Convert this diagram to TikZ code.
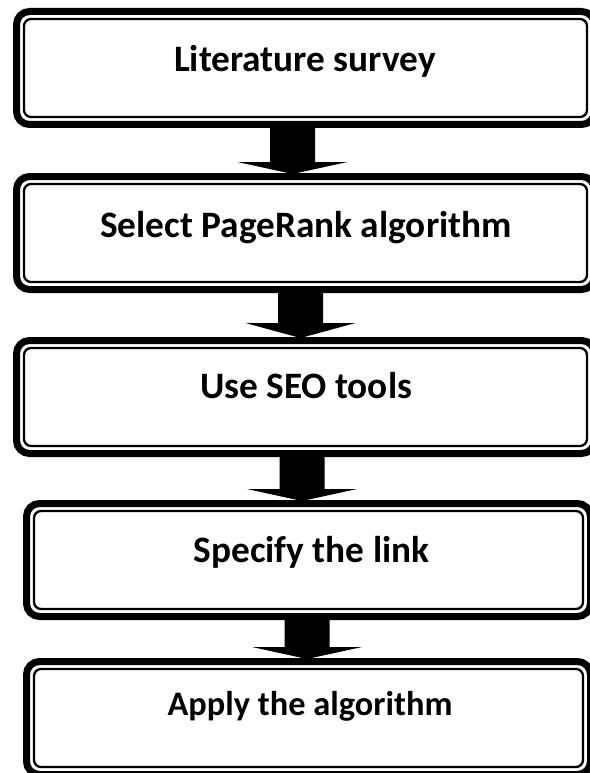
\documentclass[tikz,border=0pt]{standalone}
\usepackage{fontspec}
\setmainfont{Carlito}
\usetikzlibrary{calc}
\tikzset{
  box/.style={draw, line width=7pt, rounded corners=13pt, inner sep=0pt, outer sep=3.5pt, minimum height=113pt},
  innerln/.style={line width=2.3pt, rounded corners=7pt},
  lbl/.style={anchor=base, inner sep=0pt, font=\bfseries\fontsize{37.3}{44}\selectfont},
  lblsmall/.style={lbl, font=\bfseries\fontsize{34.4}{41}\selectfont},
}
\newcommand\innerline[1]{\draw[innerln] ([shift={(11,11)}]#1.north west) rectangle ([shift={(-11,-11)}]#1.south east);}
% #1 x centre, #2 from node, #3 to node, #4 head height
\newcommand\blockarrow[4]{\fill let \p1=(#2.south), \p2=(#3.north) in
  (#1pt-22.5pt,\y1+1pt) -- (#1pt+22.5pt,\y1+1pt) -- (#1pt+22.5pt,\y2+#4pt) -- (#1pt+55pt,\y2+#4pt)
  -- (#1pt,\y2-1pt) -- (#1pt-55pt,\y2+#4pt) -- (#1pt-22.5pt,\y2+#4pt) -- cycle;}
\begin{document}
\begin{tikzpicture}[x=1pt,y=-1pt]
\useasboundingbox (0,0) rectangle (589,773);
\fill[white] (0,0) rectangle (589,773);
\node[box, minimum width=578pt] (b1) at (305.5,68) {};
\node[box, minimum width=578pt] (b2) at (305.5,233) {};
\node[box, minimum width=578pt] (b3) at (305.5,397) {};
\node[box, minimum width=564pt] (b4) at (308.5,560) {};
\node[box, minimum width=564pt] (b5) at (308.5,718) {};
\innerline{b1}
\innerline{b2}
\innerline{b3}
\innerline{b4}
\innerline{b5}
\node[lbl] (t1) at (305,72) {Literature survey};
\node[lbl] (t2) at (306,237) {Select PageRank algorithm};
\node[lbl] (t3) at (306,398) {Use SEO tools};
\node[lbl] (t4) at (311.5,562) {Specify the link};
\node[lblsmall] (t5) at (310,715) {Apply the algorithm};
\blockarrow{292.5}{b1}{b2}{11}
\blockarrow{300.5}{b2}{b3}{14}
\blockarrow{302}{b3}{b4}{11}
\blockarrow{307}{b4}{b5}{11}
\end{tikzpicture}
\end{document}
